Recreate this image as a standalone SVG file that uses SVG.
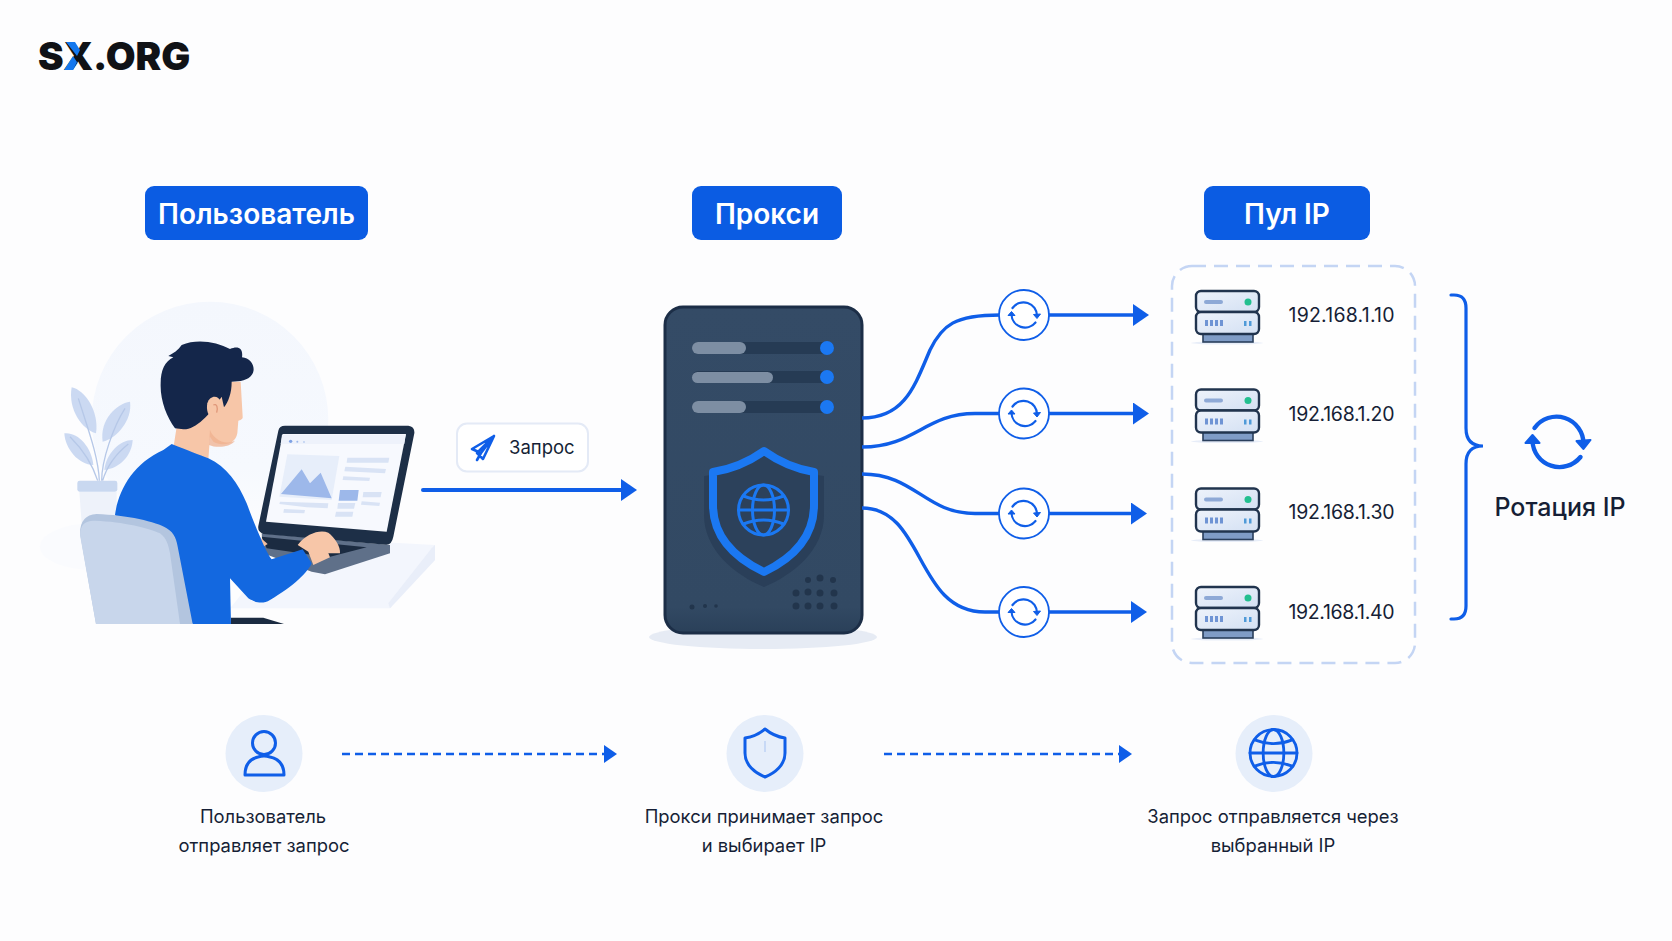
<svg xmlns="http://www.w3.org/2000/svg" width="1672" height="941" viewBox="0 0 1672 941">
<style>
text{font-family:Inter,"Noto Sans","Liberation Sans",sans-serif;fill:#161f36}
.pill{fill:#0b5ce3}
.pilltxt{fill:#fff;font-size:28px;font-weight:600;text-anchor:middle}
.ip{font-size:19.500px;font-weight:400}
.cap{font-size:18.400px;font-weight:400;text-anchor:middle}
.wire{fill:none;stroke:#0f5ee8;stroke-width:3.4}
.ln{fill:none;stroke:#0f5ee8;stroke-width:4;stroke-linecap:round}
.dash{fill:none;stroke:#0f5ee8;stroke-width:2.6;stroke-dasharray:8 5}
.syncCircle{fill:#fff;stroke:#0f5ee8;stroke-width:1.8}
.icon{fill:none;stroke:#0f5ee8;stroke-width:3;stroke-linecap:round;stroke-linejoin:round}
.disc{fill:#e6eefa}
.srvbox{fill:url(#srvfill);stroke:#21344e;stroke-width:2.4}
</style>
<defs>
<marker id="head" viewBox="0 0 16 22" markerWidth="16" markerHeight="22" markerUnits="userSpaceOnUse" refX="1" refY="11" orient="auto"><path d="M0 0L16 11L0 22Z" fill="#0f5ee8"/></marker>
<marker id="headS" viewBox="0 0 13 18" markerWidth="13" markerHeight="18" markerUnits="userSpaceOnUse" refX="1" refY="9" orient="auto"><path d="M0 0L13 9L0 18Z" fill="#0f5ee8"/></marker>
<linearGradient id="srvfill" x1="0" y1="0" x2="1" y2="1"><stop offset="0" stop-color="#eef3fb"/><stop offset="1" stop-color="#d3e0f3"/></linearGradient>
<linearGradient id="halo" x1="0" y1="0" x2="0" y2="1"><stop offset="0" stop-color="#f4f7fd"/><stop offset=".7" stop-color="#f6f9fe"/><stop offset="1" stop-color="#fcfdfe"/></linearGradient>
<linearGradient id="body" x1="0" y1="0" x2="0" y2="1"><stop offset="0" stop-color="#344b66"/><stop offset=".92" stop-color="#324963"/><stop offset="1" stop-color="#2a4059"/></linearGradient>
<g id="sync">
<path d="M-23-14A27 27 0 0 1 26 2" fill="none" stroke="#0f5ee8" stroke-width="4.4" stroke-linecap="round"/>
<path d="M19-1L33-2L26 7Z" fill="#0f5ee8" stroke="#0f5ee8" stroke-width="2" stroke-linejoin="round"/>
<path d="M23 15A27 27 0 0 1-25-1" fill="none" stroke="#0f5ee8" stroke-width="4.4" stroke-linecap="round"/>
<path d="M-32 1L-18 1L-25-7Z" fill="#0f5ee8" stroke="#0f5ee8" stroke-width="2" stroke-linejoin="round"/>
</g>
<g id="miniSrv">
<ellipse cx="31" cy="52" rx="36" ry="1.6" fill="#e7edf8"/>
<rect x="7" y="42" width="50" height="9" fill="#7f9cc6" stroke="#2a3f5c" stroke-width="1.6"/>
<rect class="srvbox" x="0" y="0" width="63" height="21" rx="5"/>
<rect class="srvbox" x="0" y="21" width="63" height="22" rx="5"/>
<rect x="8" y="9" width="19" height="4" rx="2" fill="#8ea9d6"/>
<circle cx="52" cy="11" r="3.5" fill="#22bf8f"/>
<g fill="#6f94d4"><rect x="9" y="29" width="3" height="6"/><rect x="14" y="29" width="3" height="6"/><rect x="19" y="29" width="3" height="6"/><rect x="24" y="29" width="3" height="6"/></g>
<g fill="#4f9ad8"><rect x="48" y="30" width="2.5" height="5"/><rect x="53" y="30" width="2.5" height="5"/></g>
</g>
<g id="globe" fill="none" stroke-linecap="round">
<circle r="25"/><ellipse rx="11" ry="25"/><path d="M-25 0H25M-20-14Q0-6 20-14M-20 14Q0 6 20 14"/>
</g>
</defs>

<rect width="1672" height="941" fill="#fdfdfe"/>

<g id="logo">
<text x="38" y="70" style="font-size:38.500px;font-weight:900;fill:#101216">S</text>
<text x="63" y="70" style="font-size:38.500px;font-weight:900;fill:#101216">X</text>
<path d="M66 42H75L80 50L77 56ZM64 70H73L77 62L73 56Z" fill="#1478ee"/>
<text x="93" y="70" style="font-size:38.500px;font-weight:900;fill:#101216">.ORG</text>
</g>

<g id="head-user"><rect class="pill" x="145" y="186" width="223" height="54" rx="9"/><text class="pilltxt" x="256.500" y="224">Пользователь</text></g>
<g id="head-proxy"><rect class="pill" x="692" y="186" width="150" height="54" rx="9"/><text class="pilltxt" x="767" y="224">Прокси</text></g>
<g id="head-pool"><rect class="pill" x="1204" y="186" width="166" height="54" rx="9"/><text class="pilltxt" x="1287" y="224">Пул IP</text></g>

<!-- seated user at the laptop, drawn on a 3x grid -->
<g id="user" transform="translate(0 270) scale(.33333)">
<ellipse cx="280" cy="830" rx="160" ry="70" fill="#fafbfe"/>
<circle cx="630" cy="450" r="355" fill="url(#halo)"/>
<path d="M690 1015L1170 1015L1305 870V825L1180 818L800 880Z" fill="#f3f6fd"/>
<path d="M1170 1015L1305 870V825L1295 835L1165 1000Z" fill="#e9eef9"/>
<!-- plant -->
<g fill="#cbd9f2">
<path d="M215 352C255 360 298 425 288 490C248 480 203 420 215 352Z"/>
<path d="M390 395C350 400 298 450 308 515C350 505 398 450 390 395Z"/>
<path d="M193 490C232 485 275 530 280 585C235 585 195 535 193 490Z"/>
<path d="M398 510C360 510 318 550 313 600C360 595 396 555 398 510Z"/>
</g>
<path d="M298 632C295 560 265 480 235 385M305 632C305 570 340 470 375 415M293 632C280 590 250 540 210 500M308 632C320 590 350 550 385 522" fill="none" stroke="#b6c8e8" stroke-width="4"/>
<path d="M238 665H350V760H245Z" fill="#eef2fa"/>
<rect x="232" y="632" width="120" height="33" rx="7" fill="#c9d8f0"/>
<!-- laptop -->
<path d="M785 790L1170 825V850L975 913L935 905L790 850Z" fill="#5f7089"/>
<path d="M785 800L1100 832L985 862L800 835Z" fill="#1b2b41"/>
<path d="M835 482Q838 467 855 467H1225Q1245 470 1243 490L1180 800Q1175 825 1158 824L790 792Q772 785 775 768Z" fill="#1d2f47"/>
<path d="M848 492H1218L1160 785L798 755Z" fill="#f7f9fe"/>
<path d="M846 494H1217L1213 522H842Z" fill="#eef2fb"/>
<circle cx="872" cy="514" r="5" fill="#7fa2e4"/><circle cx="892" cy="515" r="3" fill="#9db8ea"/><circle cx="912" cy="516" r="2.500" fill="#9db8ea"/>
<path d="M862 553L1018 558L995 690L838 680Z" fill="#e7eefa"/>
<path d="M843 672L905 598L930 640L962 608L995 685Z" fill="#9db8ea"/>
<g fill="#d9e3f5">
<path d="M1042 563H1168L1165 578H1040Z"/><path d="M1036 590L1158 597L1155 610L1033 604Z"/><path d="M1030 619L1110 623L1108 633L1028 630Z"/>
<path d="M1090 666H1145L1142 682H1088Z"/><path d="M1085 694L1140 698L1138 708L1083 704Z"/>
<path d="M1014 699H1066L1062 716H1012Z"/><path d="M1008 725H1060L1057 740H1005Z"/>
<path d="M840 695L985 700L983 715L920 712L838 702Z"/><path d="M852 717L915 720L913 730L850 728Z"/>
</g>
<path d="M1020 660H1076L1072 692H1016Z" fill="#9db8ea"/>
<!-- skin -->
<path d="M778 800L803 822L790 830Z" fill="#f4bfa0"/>
<path d="M530 470L520 535L625 570L630 500L640 515C670 530 705 525 712 490L715 452Q730 448 728 440L722 335H640Z" fill="#f7c6a8"/>
<path d="M630 480C640 505 670 528 705 512C690 532 650 535 627 525Z" fill="#efb08f" opacity=".75"/>
<!-- hair -->
<path d="M505 258C520 250 535 240 545 225C590 205 650 215 690 237C715 226 730 235 726 262C755 265 770 295 755 315C745 330 720 335 695 335C695 370 685 395 672 412L665 380C630 435 585 480 550 478L525 475C500 440 480 390 482 340C482 300 495 275 520 262Z" fill="#14264a"/>
<path d="M622 400C630 375 655 375 662 395C668 425 650 445 635 443C625 440 618 420 622 400Z" fill="#f7c6a8"/>
<path d="M640 405C650 400 655 412 650 428" fill="none" stroke="#e0987a" stroke-width="4"/>
<!-- sweater -->
<path d="M490 540L515 522C560 540 600 555 625 565C680 590 715 640 740 700C770 780 800 850 815 868L908 838L935 880C925 905 880 950 810 990C790 1002 770 1000 745 985L690 925L693 1062H578L400 800L345 735C355 660 400 580 490 540Z" fill="#1368e0"/>
<path d="M893 825C920 790 960 778 985 788C1005 803 1022 830 1020 850L985 850L990 862L940 885L925 845Z" fill="#f7c6a8"/>
<!-- chair -->
<path d="M240 790Q240 735 290 732C380 735 470 755 500 775C525 790 530 810 535 840L578 1062H288Z" fill="#b3c5df"/>
<path d="M240 795Q240 750 285 752C370 755 450 775 480 790C500 805 505 825 510 850L540 1062H288Z" fill="#c8d6eb"/>
<path d="M693 1043H790L852 1062H693Z" fill="#1b2b41"/>
</g>

<g id="request-label">
<rect x="457" y="423.500" width="131" height="48" rx="10" fill="#fff" stroke="#e4eaf6" stroke-width="2"/>
<path d="M494 436L472 449L481 453ZM494 436L483 459L477 453ZM494 436L481 453L477 460" fill="none" stroke="#0f5ee8" stroke-width="2.600" stroke-linejoin="round" stroke-linecap="round"/>
<text x="509" y="454" style="font-size:18.500px">Запрос</text>
</g>

<g id="proxy-server">
<ellipse cx="763" cy="637" rx="114" ry="12" fill="#e6ebf4"/>
<rect x="665" y="307" width="197" height="326" rx="18" fill="url(#body)" stroke="#1c2e47" stroke-width="3"/>
<g fill="#263b54"><rect x="692" y="342" width="142" height="12" rx="6"/><rect x="692" y="371" width="142" height="12" rx="6"/><rect x="692" y="401" width="142" height="12" rx="6"/></g>
<g fill="#7d8ea3"><rect x="692" y="342" width="54" height="12" rx="6"/><rect x="692" y="372" width="81" height="11" rx="5.500"/><rect x="692" y="401" width="54" height="12" rx="6"/></g>
<g fill="#1b78f2"><circle cx="827" cy="348" r="7"/><circle cx="827" cy="377" r="7"/><circle cx="827" cy="407" r="7"/></g>
<path d="M764 454C750 465 730 473 704 476L704 515C704 550 735 575 764 587C793 575 824 550 824 515L824 476C798 473 778 465 764 454Z" fill="#2a3f59"/>
<path d="M764 451C750 461 732 469 713 472L713 505C713 538 737 559 764 572C791 559 814 538 814 505L814 472C796 469 778 461 764 451Z" fill="#2c415b" stroke="#1b78f2" stroke-width="8" stroke-linejoin="round"/>
<use href="#globe" transform="translate(763.500 510)" stroke="#1b78f2" stroke-width="3"/>
<g fill="#22354c"><circle cx="808" cy="580" r="3"/><circle cx="820" cy="578" r="3.500"/><circle cx="833" cy="580" r="3"/>
<circle cx="796" cy="593" r="3.500"/><circle cx="808" cy="592" r="3.500"/><circle cx="820" cy="593" r="3.500"/><circle cx="834" cy="593" r="3.500"/>
<circle cx="796" cy="606" r="3.500"/><circle cx="808" cy="606" r="3.500"/><circle cx="820" cy="606" r="3.500"/><circle cx="834" cy="606" r="3.500"/>
<circle cx="692" cy="607" r="2.500"/><circle cx="705" cy="606" r="2"/><circle cx="716" cy="606" r="1.800"/></g>
</g>

<g id="connectors">
<path class="ln" d="M423 490H622" marker-end="url(#head)"/>
<path class="wire" d="M862 418C905 418 915 385 930 350C942 325 955 315 1000 315"/>
<path class="wire" d="M862 447C915 447 925 413.500 975 413.500H1000"/>
<path class="wire" d="M862 474C915 474 925 513.500 975 513.500H1000"/>
<path class="wire" d="M862 508C925 508 915 612 985 612H1000"/>
<path class="wire" d="M1048 315H1134" marker-end="url(#head)"/>
<path class="wire" d="M1048 413.500H1134" marker-end="url(#head)"/>
<path class="wire" d="M1048 513.500H1132" marker-end="url(#head)"/>
<path class="wire" d="M1048 612H1132" marker-end="url(#head)"/>
<path class="dash" d="M342 754H605" marker-end="url(#headS)"/>
<path class="dash" d="M884 754H1120" marker-end="url(#headS)"/>
</g>

<g id="sync-1"><circle class="syncCircle" cx="1024" cy="315" r="25"/><use href="#sync" transform="translate(1024 315) scale(.5)"/></g>
<g id="sync-2"><circle class="syncCircle" cx="1024" cy="413.500" r="25"/><use href="#sync" transform="translate(1024 413.500) scale(.5)"/></g>
<g id="sync-3"><circle class="syncCircle" cx="1024" cy="513.500" r="25"/><use href="#sync" transform="translate(1024 513.500) scale(.5)"/></g>
<g id="sync-4"><circle class="syncCircle" cx="1024" cy="612" r="25"/><use href="#sync" transform="translate(1024 612) scale(.5)"/></g>

<g id="ip-pool"><rect x="1172" y="266" width="243" height="397" rx="20" fill="#fefefe" stroke="#c4d5f4" stroke-width="2.500" stroke-dasharray="14 8"/></g>
<g id="ip-1"><use href="#miniSrv" x="1196" y="291"/><text class="ip" x="1288.500" y="321.500" textLength="106" lengthAdjust="spacing">192.168.1.10</text></g>
<g id="ip-2"><use href="#miniSrv" x="1196" y="389.500"/><text class="ip" x="1288.500" y="420.500" textLength="106" lengthAdjust="spacing">192.168.1.20</text></g>
<g id="ip-3"><use href="#miniSrv" x="1196" y="488.500"/><text class="ip" x="1288.500" y="519" textLength="106" lengthAdjust="spacing">192.168.1.30</text></g>
<g id="ip-4"><use href="#miniSrv" x="1196" y="587"/><text class="ip" x="1288.500" y="618.500" textLength="106" lengthAdjust="spacing">192.168.1.40</text></g>

<g id="rotation">
<path d="M1451 295H1454Q1466 295 1466 308V428Q1466 446 1483 446Q1466 446 1466 464V606Q1466 619 1454 619H1451" fill="none" stroke="#0f5ee8" stroke-width="3.200" stroke-linecap="round"/>
<use href="#sync" transform="translate(1557.500 442)"/>
<text x="1560" y="516" style="font-size:25px;font-weight:500;text-anchor:middle">Ротация IP</text>
</g>

<g id="step-user">
<circle class="disc" cx="264" cy="753.500" r="38.500"/>
<circle class="icon" cx="264" cy="743" r="11.500"/>
<path class="icon" d="M245 775H284Q284 760 270 757Q264 755 258 757Q245 760 245 775Z"/>
<text class="cap" x="263" y="822.500">Пользователь</text><text class="cap" x="264" y="851.500">отправляет запрос</text>
</g>
<g id="step-proxy">
<circle class="disc" cx="765" cy="753.500" r="38.500"/>
<path class="icon" d="M765 729C759 734 752 737 745 738V753C745 765 755 773 765 777C775 773 785 765 785 753V738C778 737 771 734 765 729Z"/>
<path d="M765 741V752" stroke="#a9c4f2" stroke-width="1"/>
<text class="cap" x="764" y="822.500">Прокси принимает запрос</text><text class="cap" x="764" y="851.500">и выбирает IP</text>
</g>
<g id="step-route">
<circle class="disc" cx="1274" cy="753.500" r="38.500"/>
<use href="#globe" transform="translate(1273.500 753) scale(.94)" stroke="#0f5ee8" stroke-width="3"/>
<text class="cap" x="1273" y="822.500">Запрос отправляется через</text><text class="cap" x="1273" y="851.500">выбранный IP</text>
</g>
</svg>
